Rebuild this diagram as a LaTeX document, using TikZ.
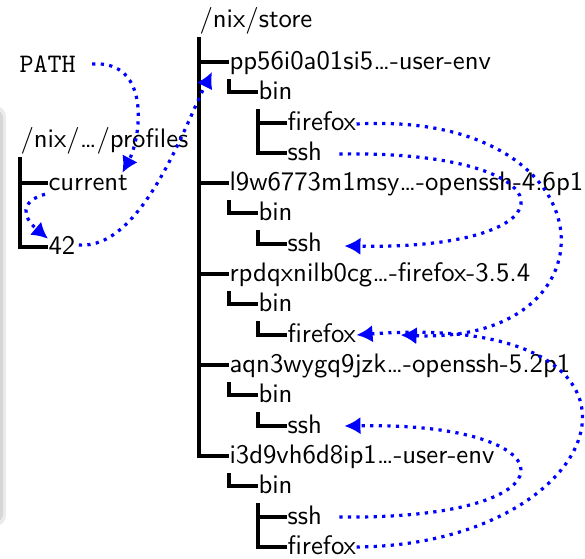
\documentclass[tikz,border=0pt]{standalone}
\usetikzlibrary{arrows.meta}

\begin{document}
\begin{tikzpicture}[x=0.374pt,y=-0.374pt,>={Latex[length=6pt,width=6.5pt]},
	entry/.style={anchor=west,inner xsep=0pt,inner ysep=2pt,text height=7pt,text depth=1.5pt,font=\sffamily},
	branch/.style={ultra thick},
	symlink/.style={->,blue,very thick,dotted}]
	\useasboundingbox (0,0) rectangle (585,559);
	
	% shadow of the frame on the left
	\fill[black!8,rounded corners=4pt] (-20,106) rectangle (6,526);
	\fill[black!16,rounded corners=3pt] (-20,110) rectangle (3,522);
	
	% profiles
	\node[anchor=west,inner sep=0pt] (pathvar) at (19,64) {\texttt{PATH}};
	\node[entry] (profiles) at (20,140) {/nix/\ldots/profiles};
	\node[entry] (current) at (48,183) {current};
	\node[entry] (gen42) at (48,247) {42};
	
	% the store
	\node[entry] (store) at (199,20) {/nix/store};
	\node[entry] (pp) at (229,62) {pp56i0a01si5\ldots-user-env};
	\node[entry] (ppbin) at (258,92) {bin};
	\node[entry] (ppff) at (287,123) {firefox};
	\node[entry] (ppssh) at (287,153) {ssh};
	\node[entry] (l9) at (229,183) {l9w6773m1msy\ldots-openssh-4.6p1};
	\node[entry] (l9bin) at (258,213) {bin};
	\node[entry] (l9ssh) at (287,244) {ssh};
	\node[entry] (rp) at (229,274) {rpdqxnilb0cg\ldots-firefox-3.5.4};
	\node[entry] (rpbin) at (258,304) {bin};
	\node[entry] (rpff) at (287,335) {firefox};
	\node[entry] (aq) at (229,365) {aqn3wygq9jzk\ldots-openssh-5.2p1};
	\node[entry] (aqbin) at (258,395) {bin};
	\node[entry] (aqssh) at (287,426) {ssh};
	\node[entry] (i3) at (229,456) {i3d9vh6d8ip1\ldots-user-env};
	\node[entry] (i3bin) at (258,486) {bin};
	\node[entry] (i3ssh) at (287,517) {ssh};
	\node[entry] (i3ff) at (287,547) {firefox};
	
	% tree lines
	\draw[branch] (profiles.south west) |- (current.west);
	\draw[branch] (profiles.south west) |- (gen42.west);
	\draw[branch] (store.south west) |- (pp.west);
	\draw[branch] (store.south west) |- (l9.west);
	\draw[branch] (store.south west) |- (rp.west);
	\draw[branch] (store.south west) |- (aq.west);
	\draw[branch] (store.south west) |- (i3.west);
	\draw[branch] (pp.south west) |- (ppbin.west);
	\draw[branch] (ppbin.south west) |- (ppff.west);
	\draw[branch] (ppbin.south west) |- (ppssh.west);
	\draw[branch] (l9.south west) |- (l9bin.west);
	\draw[branch] (l9bin.south west) |- (l9ssh.west);
	\draw[branch] (rp.south west) |- (rpbin.west);
	\draw[branch] (rpbin.south west) |- (rpff.west);
	\draw[branch] (aq.south west) |- (aqbin.west);
	\draw[branch] (aqbin.south west) |- (aqssh.west);
	\draw[branch] (i3.south west) |- (i3bin.west);
	\draw[branch] (i3bin.south west) |- (i3ssh.west);
	\draw[branch] (i3bin.south west) |- (i3ff.west);
	
	% symlinks
	\draw[symlink] ([shift={(16,0)}]pathvar.east) .. controls +(60,-4) and +(18,-34) .. ([shift={(-6,7)}]current.north east);
	\draw[symlink] ([shift={(-3,-6)}]current.south west) .. controls +(-25,7) and +(-26,-22) .. ([shift={(0,9)}]gen42.north west);
	\draw[symlink] ([shift={(3,-2)}]gen42.east) .. controls +(63,5) and +(-27,53) .. ([shift={(-17,10)}]pp.west);
	\draw[symlink] ([shift={(17,1)}]ppssh.east) .. controls +(235,-4) and +(238,4) .. ([shift={(22,2)}]l9ssh.east);
	\draw[symlink] ([shift={(0,1)}]ppff.east) .. controls +(257,-14) and +(223,10) .. ([shift={(44,0)}]rpff.east);
	\draw[symlink] (i3ff.east) .. controls +(257,-2) and +(337,-25) .. (rpff.east);
	\draw[symlink] ([shift={(17,0)}]i3ssh.east) .. controls +(243,3) and +(230,-4) .. ([shift={(22,0)}]aqssh.east);
\end{tikzpicture}
\end{document}
